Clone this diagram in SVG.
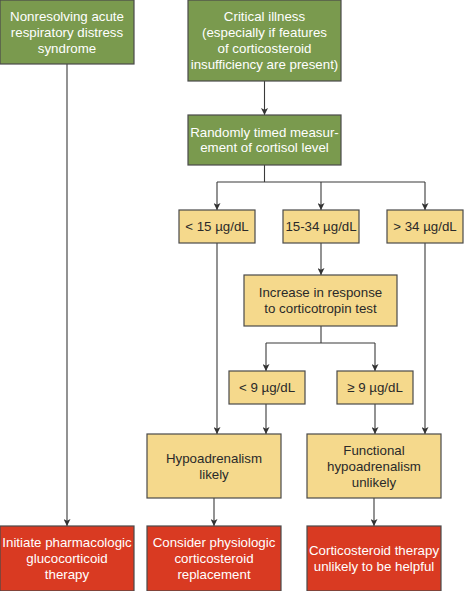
<svg xmlns="http://www.w3.org/2000/svg" width="464" height="591" viewBox="0 0 464 591">
<defs>
<marker id="ah" viewBox="0 0 8 8" refX="8" refY="4" markerWidth="7" markerHeight="7" markerUnits="userSpaceOnUse" orient="auto">
<path d="M0,0 L8,4 L0,8 L2,4 z" fill="#333"/>
</marker>
<style>
rect{stroke:#4a4a4a;stroke-width:1.2}
.g rect{fill:#7a9a4e}
.y rect{fill:#f5d98c}
.r rect{fill:#d93a22}
text{font-family:"Liberation Sans",Arial,sans-serif;font-size:13.3px;text-anchor:middle}
.g text,.r text{fill:#ffffff}
.y text{fill:#2a2a2a}
#conn path{fill:none;stroke:#3a3a3a;stroke-width:1.1}
</style>
</defs>
<rect x="0" y="0" width="464" height="591" fill="#ffffff" style="stroke:none"/>
<g id="conn">
<path d="M67,64 V526" marker-end="url(#ah)"/>
<path d="M264.5,81 V115" marker-end="url(#ah)"/>
<path d="M264.5,165 V182 M217,182 H425"/>
<path d="M217,182 V210" marker-end="url(#ah)"/>
<path d="M321,182 V210" marker-end="url(#ah)"/>
<path d="M425,182 V210" marker-end="url(#ah)"/>
<path d="M321,243 V275" marker-end="url(#ah)"/>
<path d="M321,326 V343 M266,343 H375"/>
<path d="M266,343 V371" marker-end="url(#ah)"/>
<path d="M375,343 V371" marker-end="url(#ah)"/>
<path d="M217,243 V434" marker-end="url(#ah)"/>
<path d="M266,404 V434" marker-end="url(#ah)"/>
<path d="M375,404 V434" marker-end="url(#ah)"/>
<path d="M425,243 V434" marker-end="url(#ah)"/>
<path d="M214,498 V526" marker-end="url(#ah)"/>
<path d="M374,498 V526" marker-end="url(#ah)"/>
</g>
<g id="n1" class="g">
<rect x="0" y="0" width="134" height="64"/>
<text x="67" y="20.5">Nonresolving acute</text>
<text x="67" y="36.5">respiratory distress</text>
<text x="67" y="52.5">syndrome</text>
</g>
<g id="n2" class="g">
<rect x="188" y="0" width="153" height="81"/>
<text x="264.5" y="20.5">Critical illness</text>
<text x="264.5" y="36.5">(especially if features</text>
<text x="264.5" y="52.5">of corticosteroid</text>
<text x="264.5" y="68.5">insufficiency are present)</text>
</g>
<g id="n3" class="g">
<rect x="188" y="115" width="153" height="50"/>
<text x="264.5" y="136.5">Randomly timed measur-</text>
<text x="264.5" y="152">ement of cortisol level</text>
</g>
<g id="n4" class="y">
<rect x="179" y="210" width="76" height="33"/>
<text x="217" y="231">&lt; 15 µg/dL</text>
</g>
<g id="n5" class="y">
<rect x="283" y="210" width="76" height="33"/>
<text x="321" y="231">15-34 µg/dL</text>
</g>
<g id="n6" class="y">
<rect x="387" y="210" width="76" height="33"/>
<text x="425" y="231">&gt; 34 µg/dL</text>
</g>
<g id="n7" class="y">
<rect x="244" y="275" width="153" height="51"/>
<text x="320.5" y="297">Increase in response</text>
<text x="320.5" y="313">to corticotropin test</text>
</g>
<g id="n8" class="y">
<rect x="229" y="371" width="76" height="33"/>
<text x="267" y="392">&lt; 9 µg/dL</text>
</g>
<g id="n9" class="y">
<rect x="337" y="371" width="76" height="33"/>
<text x="375" y="392">≥ 9 µg/dL</text>
</g>
<g id="n10" class="y">
<rect x="147" y="434" width="134" height="64"/>
<text x="214" y="463">Hypoadrenalism</text>
<text x="214" y="479">likely</text>
</g>
<g id="n11" class="y">
<rect x="307" y="434" width="134" height="64"/>
<text x="374" y="455">Functional</text>
<text x="374" y="471">hypoadrenalism</text>
<text x="374" y="487">unlikely</text>
</g>
<g id="n12" class="r">
<rect x="0" y="526" width="134" height="65"/>
<text x="67" y="547">Initiate pharmacologic</text>
<text x="67" y="563">glucocorticoid</text>
<text x="67" y="579">therapy</text>
</g>
<g id="n13" class="r">
<rect x="147" y="526" width="134" height="65"/>
<text x="214" y="547">Consider physiologic</text>
<text x="214" y="563">corticosteroid</text>
<text x="214" y="579">replacement</text>
</g>
<g id="n14" class="r">
<rect x="307" y="526" width="134" height="65"/>
<text x="374" y="555">Corticosteroid therapy</text>
<text x="374" y="571">unlikely to be helpful</text>
</g>
</svg>
